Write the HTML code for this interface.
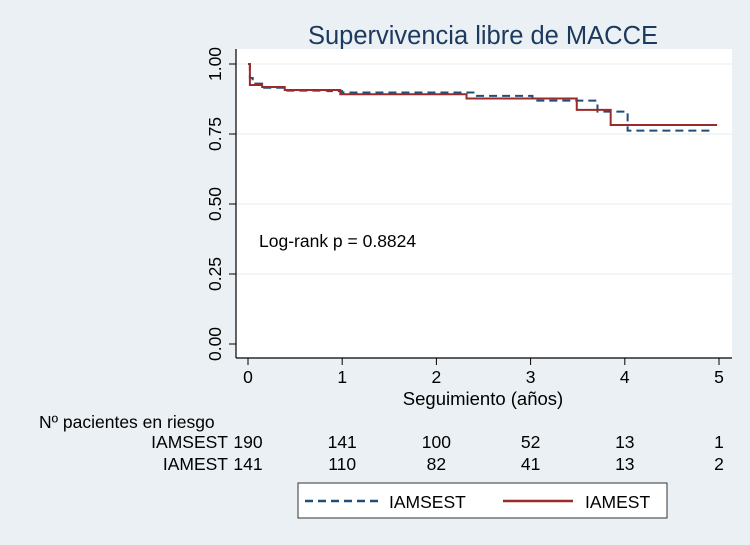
<!DOCTYPE html>
<html><head><meta charset="utf-8"><style>
body{margin:0;background:#eaf0f3;}
svg{display:block;font-family:"Liberation Sans",Arial,sans-serif;}
</style></head><body>
<svg width="750" height="545" viewBox="0 0 750 545">
<rect x="0" y="0" width="750" height="545" fill="#eaf0f3"/>
<text x="483" y="44" font-size="25.5" fill="#1c3a5e" text-anchor="middle">Supervivencia libre de MACCE</text>
<rect x="236" y="49" width="496" height="309" fill="#fff"/>
<g id="grid"></g>
<line x1="236" y1="49" x2="236" y2="358" stroke="#000" stroke-width="1.2"/>
<line x1="236" y1="358" x2="732" y2="358" stroke="#000" stroke-width="1.2"/>
<g id="ticks"></g>
<text x="483" y="405" font-size="18.5" text-anchor="middle">Seguimiento (años)</text>
<text x="259" y="247" font-size="17.5">Log-rank p = 0.8824</text>
<g id="series"></g>
<text x="39" y="428" font-size="17.5">Nº pacientes en riesgo</text>
<text x="228" y="448" font-size="17.5" text-anchor="end">IAMSEST</text>
<text x="228" y="470" font-size="17.5" text-anchor="end">IAMEST</text>
<g id="risk"></g>
<rect x="298" y="483" width="369" height="35" fill="#fff" stroke="#333" stroke-width="1"/>
<line x1="305" y1="501" x2="378" y2="501" stroke="#1f4e79" stroke-width="2.5" stroke-dasharray="8,5"/>
<text x="389" y="508" font-size="17.5">IAMSEST</text>
<line x1="503" y1="501" x2="573" y2="501" stroke="#9b2a2a" stroke-width="2.5"/>
<text x="585" y="508" font-size="17.5">IAMEST</text>
</svg>
<script>
const xTicks=[0,1,2,3,4,5];
const yTicks=[0,0.25,0.5,0.75,1];
const yTickLabels=["0.00","0.25","0.50","0.75","1.00"];
const timesSEST=[0,0.02,0.05,0.15,0.39,0.85,1.0,2.43,3.02,3.71,4.03,4.95];
const survSEST=[1,0.95,0.93,0.915,0.905,0.903,0.898,0.886,0.869,0.83,0.762,0.762];
const timesEST=[0,0.02,0.15,0.39,0.98,2.32,3.49,3.85,4.98];
const survEST=[1,0.925,0.918,0.907,0.892,0.877,0.836,0.782,0.782];
const riskSEST=[190,141,100,52,13,1];
const riskEST=[141,110,82,41,13,2];
const NS="http://www.w3.org/2000/svg";
const X=t=>248+t*94.2, Y=v=>344-v*280;
function mk(tag,attrs,parent){const e=document.createElementNS(NS,tag);for(const k in attrs)e.setAttribute(k,attrs[k]);document.getElementById(parent).appendChild(e);return e;}
yTicks.forEach((v,i)=>{
 if(v>0){const g=mk('line',{x1:237,x2:732,y1:Y(v),y2:Y(v),stroke:'#e6ecef','stroke-width':1},'grid');
 
 }
 const t=mk('line',{x1:229,x2:236,y1:Y(v),y2:Y(v),stroke:'#000'},'ticks');
 
 
 const l=mk('text',{x:0,y:0,'font-size':17.5,'text-anchor':'middle',transform:`translate(221,${Y(v)}) rotate(-90)`},'ticks');
 l.textContent=yTickLabels[i];
 
 
});
xTicks.forEach(v=>{
 const t=mk('line',{x1:X(v),x2:X(v),y1:358,y2:365,stroke:'#000'},'ticks');
 
 
 const l=mk('text',{x:X(v),y:383,'font-size':17.5,'text-anchor':'middle'},'ticks');
 l.textContent=v;
 
 
});
function stepPath(ts,ss){let d=`M${X(ts[0])},${Y(ss[0])}`;for(let i=1;i<ts.length;i++){d+=` H${X(ts[i])} V${Y(ss[i])}`;}return d;}
const p1=mk('path',{d:stepPath(timesSEST,survSEST),fill:'none',stroke:'#1f4e79','stroke-width':2,'stroke-dasharray':'8,5'},'series');


const p2=mk('path',{d:stepPath(timesEST,survEST),fill:'none',stroke:'#9b2a2a','stroke-width':2},'series');


xTicks.forEach((v,i)=>{
 const a=mk('text',{x:X(v),y:448,'font-size':17.5,'text-anchor':'middle'},'risk');
 a.textContent=riskSEST[i];
 
 
 const b=mk('text',{x:X(v),y:470,'font-size':17.5,'text-anchor':'middle'},'risk');
 b.textContent=riskEST[i];
 
 
});
</script>
</body></html>
